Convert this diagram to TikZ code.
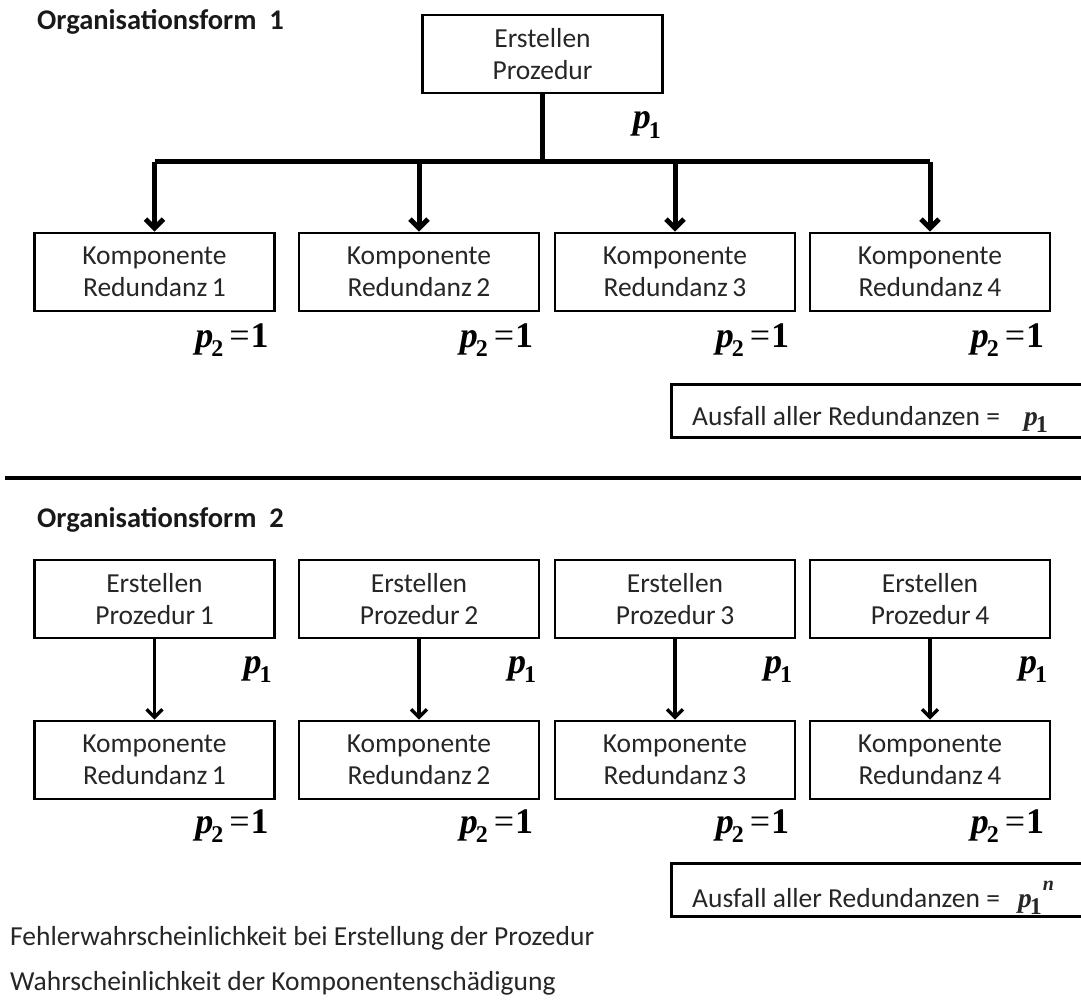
\documentclass[tikz,border=0pt]{standalone}
\usepackage{fontspec}
\setmainfont{Carlito}
\newfontfamily\timesf{Liberation Serif}
\usetikzlibrary{arrows.meta}

% bold italic probability symbol with subscript
\newcommand\psym[1]{{\timesf\bfseries\itshape p\/}\kern-2pt\raisebox{-0.26em}{\timesf\bfseries\fontsize{24}{24}\selectfont #1}}
\newcommand\pone{\psym{1}}
\newcommand\ptwo{\psym{2}\kern6pt{\timesf =}\kern1pt{\timesf\bfseries 1}}
\newcommand\ponen{\psym{1}\kern1pt\raisebox{0.6em}{\timesf\bfseries\itshape\fontsize{20}{20}\selectfont n}}

\begin{document}
\begin{tikzpicture}[x=1pt,y=-1pt,
  box/.style={draw,line width=2.6pt,minimum width=240pt,minimum height=78pt,
    inner sep=0pt,align=center,font=\fontsize{27.5}{32}\selectfont,text=black!85},
  heading/.style={anchor=west,inner sep=0pt,font=\fontsize{28.5}{30}\selectfont\bfseries,text=black!90},
  plab/.style={anchor=east,inner sep=0pt,font=\fontsize{36}{36}\selectfont},
  frame/.style={draw,line width=2.6pt,minimum width=430pt,minimum height=53pt,
    inner sep=0pt,anchor=north west},
  frametext/.style={anchor=west,inner sep=0pt,font=\fontsize{27.5}{32}\selectfont,text=black!85},
  legend/.style={anchor=west,inner sep=0pt,font=\fontsize{27.5}{32}\selectfont,text=black!85},
  busline/.style={line width=5pt},
  busarrow/.style={line width=5pt,-{Straight Barb[length=9pt,width=18pt]}},
  thinarrow/.style={line width=3.4pt,-{Straight Barb[length=8pt,width=16pt]}},
]
\useasboundingbox (0,0) rectangle (1081,1000);

% ---------- Organisationsform 1 ----------
\node[heading] (h1) at (37,22) {Organisationsform\ \ 1};
\node[box] (top) at (542.5,54) {Erstellen\\Prozedur};
\node[plab] (ptop) at (661,125) {\pone};

\foreach \i/\x in {1/154.5,2/419,3/675,4/930}{
  \node[box] (c\i) at (\x,272) {Komponente\\Redundanz\,\i};
  \node[plab] (cp\i) at ([xshift=-7pt,yshift=-28pt]c\i.south east) {\ptwo};
}

\coordinate (bus) at (top.south |- 0,162);
\draw[busline] (top.south) -- (bus);
\draw[busline] (c1.north |- bus) -- (c4.north |- bus);
\foreach \i in {1,...,4}{
  \draw[busarrow] (c\i.north |- bus) -- (c\i.north);
}

\node[frame] (a1) at (670,383) {};
\node[frametext] (a1t) at ([xshift=22pt,yshift=-9pt]a1.west) {Ausfall aller Redundanzen =\hspace{24pt}\pone};

% separator
\draw[line width=4.5pt] (5,478) -- (1090,478);

% ---------- Organisationsform 2 ----------
\node[heading] (h2) at (37,520) {Organisationsform\ \ 2};

\foreach \i/\x in {1/154.5,2/419,3/675,4/930}{
  \node[box] (e\i) at (\x,599) {Erstellen\\Prozedur\,\i};
  \node[plab] (ep\i) at ([xshift=-4pt,yshift=-30pt]e\i.south east) {\pone};
  \node[box] (k\i) at (\x,760) {Komponente\\Redundanz\,\i};
  \node[plab] (kp\i) at ([xshift=-7pt,yshift=-26pt]k\i.south east) {\ptwo};
  \draw[thinarrow] (e\i.south) -- (k\i.north);
}

\node[frame] (a2) at (670,862) {};
\node[frametext] (a2t) at ([xshift=22pt,yshift=-8pt]a2.west) {Ausfall aller Redundanzen =\hspace{18pt}\ponen};

% legend lines
\node[legend] (l1) at (10,938) {Fehlerwahrscheinlichkeit bei Erstellung der Prozedur};
\node[legend] (l2) at (10,983) {Wahrscheinlichkeit der Komponentenschädigung};
\end{tikzpicture}
\end{document}
